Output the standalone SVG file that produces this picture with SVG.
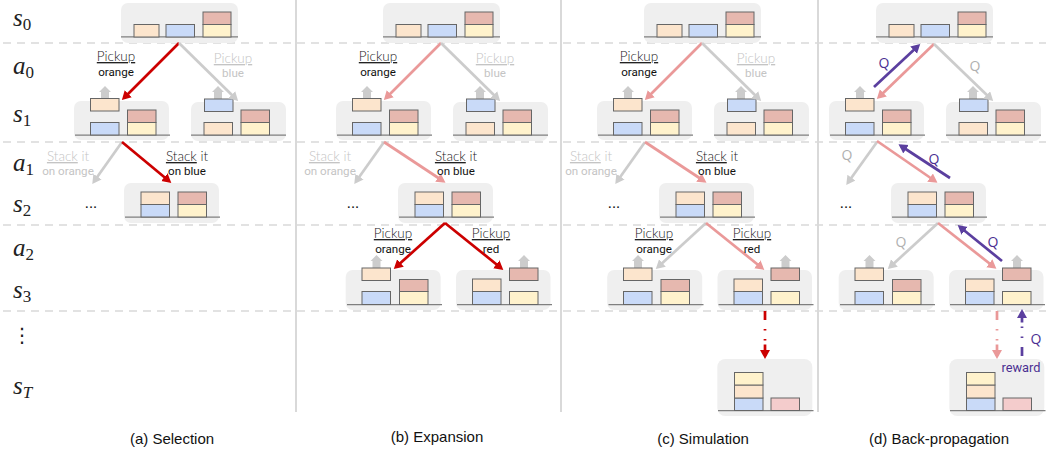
<svg xmlns="http://www.w3.org/2000/svg" width="1048" height="450" viewBox="0 0 1048 450">
<style>
.bg{fill:#efefef}
.fl{stroke:#7f7f7f;stroke-width:1.3;fill:none}
.o,.b,.y,.r,.p{stroke:#666;stroke-width:1}
.o{fill:#fce5cd}.b{fill:#c9daf8}.y{fill:#fff2cc}.r{fill:#e6b8af}.p{fill:#f4cccc}
.up{fill:#cccccc}
.sep{stroke:#d9d9d9;stroke-width:1.6;stroke-dasharray:8 6;fill:none}
.vl{stroke:#d9d9d9;stroke-width:2;fill:none}
.ar{fill:none;stroke-width:2.7}
.red{stroke:#cc0000}.pk{stroke:#ea9999}.gy{stroke:#cccccc}.pu{stroke:#5b3f9f}
.dd{stroke-dasharray:9 9 1.5 8.5 1.5 4 20 100}
.tt{font-family:"Roboto","Liberation Sans",sans-serif;font-size:11.6px;fill:#111;text-anchor:middle}
.ul{font-family:"Lato","Open Sans",sans-serif;font-size:13.5px;font-weight:300;fill:#222;text-anchor:middle}
.u{text-decoration:underline}
.g{fill:#c4c4c4}
.m{font-family:"Liberation Serif","DejaVu Serif",serif;font-size:25px;font-style:italic;fill:#222}
.sb{font-size:17px;font-style:normal}
.cap{font-family:"Liberation Sans",Arial,sans-serif;font-size:15px;fill:#111;text-anchor:middle}
.q{font-family:"Open Sans","Liberation Sans",sans-serif;font-size:14px;text-anchor:middle}
.qp{fill:#4b2f92}.qg{fill:#b0b0b0}
.dots{font-family:"Roboto","Liberation Sans",sans-serif;font-size:16px;fill:#111;text-anchor:middle}
.rw{font-family:"Roboto","Liberation Sans",sans-serif;font-size:12.8px;fill:#4b2f92;text-anchor:middle}
</style>
<defs>
<marker id="hr" markerUnits="userSpaceOnUse" markerWidth="11" markerHeight="11" refX="6" refY="5" orient="auto"><path d="M0 0L9 5L0 10Z" fill="#cc0000"/></marker>
<marker id="hp" markerUnits="userSpaceOnUse" markerWidth="11" markerHeight="11" refX="6" refY="5" orient="auto"><path d="M0 0L9 5L0 10Z" fill="#ea9999"/></marker>
<marker id="hg" markerUnits="userSpaceOnUse" markerWidth="11" markerHeight="11" refX="6" refY="5" orient="auto"><path d="M0 0L9 5L0 10Z" fill="#cccccc"/></marker>
<marker id="hu" markerUnits="userSpaceOnUse" markerWidth="11" markerHeight="11" refX="6" refY="5" orient="auto"><path d="M0 0L9 5L0 10Z" fill="#5b3f9f"/></marker>
<g id="t-s0">
<rect class="bg" x="121" y="3" width="117" height="40" rx="7"/>
<path class="fl" d="M121 36.8H238"/>
<rect class="o" x="134" y="24.5" width="25" height="12.5"/><rect class="b" x="166" y="24.5" width="28.5" height="12.5"/>
<rect class="y" x="203" y="24.5" width="28" height="12.5"/><rect class="r" x="203" y="12" width="28" height="12.5"/>
</g>
<g id="t-s1l">
<rect class="bg" x="74" y="101" width="95" height="39" rx="7"/>
<path class="fl" d="M75 135.2H170"/>
<path class="up" d="M105 86L111 92H109V98H101V92H99Z"/>
<rect class="o" x="90.5" y="98.5" width="28.5" height="12.5"/><rect class="b" x="90.5" y="122.5" width="28.5" height="12.5"/>
<rect class="y" x="127.5" y="122.5" width="28.5" height="12.5"/><rect class="r" x="127.5" y="110" width="28.5" height="12.5"/>
</g>
<g id="t-s1r">
<rect class="bg" x="191" y="102" width="95" height="39" rx="7"/>
<path class="fl" d="M191 135.2H286"/>
<path class="up" d="M218 86L224 92H222V99H214V92H212Z"/>
<rect class="b" x="204.5" y="99" width="28.5" height="12.5"/><rect class="o" x="204" y="122.5" width="28.5" height="12.5"/>
<rect class="y" x="241" y="122.5" width="28.5" height="12.5"/><rect class="r" x="241" y="110" width="28.5" height="12.5"/>
</g>
<g id="t-s2">
<rect class="bg" x="124" y="183" width="95" height="40" rx="7"/>
<path class="fl" d="M125 217.2H220"/>
<rect class="b" x="141" y="204.5" width="28.5" height="12.5"/><rect class="o" x="141" y="192" width="28.5" height="12.5"/>
<rect class="y" x="178" y="204.5" width="28.5" height="12.5"/><rect class="r" x="178" y="192" width="28.5" height="12.5"/>
</g>
<g id="t-s3l">
<rect class="bg" x="345.7" y="270" width="95" height="40" rx="7"/>
<path class="fl" d="M347 304.7H442"/>
<path class="up" d="M376.5 255L382.5 261H380.5V268H372.5V261H370.5Z"/>
<rect class="o" x="362" y="268" width="28.5" height="12.5"/><rect class="b" x="362" y="291.5" width="28.5" height="13"/>
<rect class="y" x="399.5" y="291.5" width="28.5" height="13"/><rect class="r" x="399.5" y="279.5" width="28.5" height="12"/>
</g>
<g id="t-s3r">
<rect class="bg" x="456" y="270" width="94.5" height="40" rx="7"/>
<path class="fl" d="M457 304.7H552"/>
<path class="up" d="M524 255L530 261H528V268H520V261H518Z"/>
<rect class="r" x="509.5" y="268" width="28.5" height="12.5"/><rect class="y" x="509.5" y="291.5" width="28.5" height="13"/>
<rect class="b" x="472.5" y="291.5" width="28.5" height="13"/><rect class="o" x="472.5" y="279" width="28.5" height="12.5"/>
</g>
<g id="t-st">
<rect class="bg" x="717.3" y="359" width="95" height="57" rx="8"/>
<path class="fl" d="M718 410.7H813.5"/>
<rect class="b" x="734.5" y="398" width="28.5" height="12.5"/><rect class="o" x="734.5" y="385" width="28.5" height="13"/><rect class="y" x="734.5" y="372.5" width="28.5" height="12.5"/>
<rect class="p" x="771" y="398" width="28.5" height="12.5"/>
</g>
</defs>
<rect width="1048" height="450" fill="#ffffff"/>
<g id="separators">
<path class="sep" d="M3 43H1046M3 142H1046M3 225H1046M3 311H1046"/>
<path class="vl" d="M296 0V412M561 0V412M818 0V412"/>
</g>
<g id="panel-a-s0"><use href="#t-s0"/></g>
<g id="panel-a-s1-left"><use href="#t-s1l"/></g>
<g id="panel-a-s1-right"><use href="#t-s1r"/></g>
<g id="panel-a-s2"><use href="#t-s2"/></g>
<g id="panel-b-s0"><use href="#t-s0" x="262"/></g>
<g id="panel-b-s1-left"><use href="#t-s1l" x="262"/></g>
<g id="panel-b-s1-right"><use href="#t-s1r" x="262"/></g>
<g id="panel-b-s2"><use href="#t-s2" x="274"/></g>
<g id="panel-b-s3-left"><use href="#t-s3l"/></g>
<g id="panel-b-s3-right"><use href="#t-s3r"/></g>
<g id="panel-c-s0"><use href="#t-s0" x="523"/></g>
<g id="panel-c-s1-left"><use href="#t-s1l" x="523"/></g>
<g id="panel-c-s1-right"><use href="#t-s1r" x="523"/></g>
<g id="panel-c-s2"><use href="#t-s2" x="535"/></g>
<g id="panel-c-s3-left"><use href="#t-s3l" x="261.5"/></g>
<g id="panel-c-s3-right"><use href="#t-s3r" x="261.5"/></g>
<g id="panel-c-st"><use href="#t-st"/></g>
<g id="panel-d-s0"><use href="#t-s0" x="755"/></g>
<g id="panel-d-s1-left"><use href="#t-s1l" x="755"/></g>
<g id="panel-d-s1-right"><use href="#t-s1r" x="755"/></g>
<g id="panel-d-s2"><use href="#t-s2" x="767"/></g>
<g id="panel-d-s3-left"><use href="#t-s3l" x="493"/></g>
<g id="panel-d-s3-right"><use href="#t-s3r" x="493"/></g>
<g id="panel-d-st"><use href="#t-st" x="232"/></g>
<g id="connectors">
<line class="ar red" x1="179" y1="43" x2="124" y2="98" marker-end="url(#hr)"/>
<line class="ar gy" x1="179" y1="43" x2="236" y2="99" marker-end="url(#hg)"/>
<line class="ar gy" x1="122" y1="142" x2="94" y2="181.5" marker-end="url(#hg)"/>
<line class="ar red" x1="122" y1="142" x2="169" y2="181" marker-end="url(#hr)"/>

<line class="ar pk" x1="441" y1="43" x2="386" y2="98" marker-end="url(#hp)"/>
<line class="ar gy" x1="441" y1="43" x2="498" y2="99" marker-end="url(#hg)"/>
<line class="ar gy" x1="384" y1="142" x2="356" y2="181.5" marker-end="url(#hg)"/>
<line class="ar pk" x1="384" y1="142" x2="443" y2="181" marker-end="url(#hp)"/>
<line class="ar red" x1="445" y1="223" x2="396" y2="267" marker-end="url(#hr)"/>
<line class="ar red" x1="445" y1="223" x2="501" y2="268" marker-end="url(#hr)"/>

<line class="ar pk" x1="702" y1="43" x2="647" y2="98" marker-end="url(#hp)"/>
<line class="ar gy" x1="702" y1="43" x2="759" y2="99" marker-end="url(#hg)"/>
<line class="ar gy" x1="645" y1="142" x2="617" y2="181.5" marker-end="url(#hg)"/>
<line class="ar pk" x1="645" y1="142" x2="704" y2="181" marker-end="url(#hp)"/>
<line class="ar gy" x1="706" y1="223" x2="658" y2="267" marker-end="url(#hg)"/>
<line class="ar pk" x1="706" y1="223" x2="762" y2="268" marker-end="url(#hp)"/>
<line class="ar red dd" x1="765" y1="311" x2="765" y2="356" marker-end="url(#hr)"/>

<line class="ar pu" x1="874" y1="87" x2="918" y2="46" marker-end="url(#hu)"/>
<line class="ar pk" x1="934" y1="44" x2="879" y2="97" marker-end="url(#hp)"/>
<line class="ar gy" x1="934" y1="44" x2="991" y2="99" marker-end="url(#hg)"/>
<line class="ar gy" x1="877" y1="142" x2="848" y2="182.5" marker-end="url(#hg)"/>
<line class="ar pk" x1="877" y1="141" x2="935" y2="181" marker-end="url(#hp)"/>
<line class="ar pu" x1="950" y1="178" x2="901" y2="146" marker-end="url(#hu)"/>
<line class="ar gy" x1="938" y1="223" x2="890" y2="267" marker-end="url(#hg)"/>
<line class="ar pk" x1="938" y1="223" x2="994" y2="267" marker-end="url(#hp)"/>
<line class="ar pu" x1="1002" y1="261" x2="960" y2="227" marker-end="url(#hu)"/>
<line class="ar pk dd" x1="997" y1="311" x2="997" y2="356" marker-end="url(#hp)"/>
<line class="ar pu dd" x1="1022" y1="356" x2="1022" y2="312" marker-end="url(#hu)"/>
</g>
<g id="labels">
<text class="ul u" x="116" y="61">Pickup</text><text class="tt" x="116" y="76">orange</text>
<text class="ul u g" x="233" y="63">Pickup</text><text class="tt g" x="233" y="77">blue</text>
<text class="ul g" x="68" y="161"><tspan class="u">Stack</tspan> it</text><text class="tt g" x="68" y="175">on orange</text>
<text class="ul" x="187" y="161"><tspan class="u">Stack</tspan> it</text><text class="tt" x="187" y="175">on blue</text>
<text class="dots" x="91" y="208">...</text>

<text class="ul u" x="378" y="61">Pickup</text><text class="tt" x="378" y="76">orange</text>
<text class="ul u g" x="495" y="63">Pickup</text><text class="tt g" x="495" y="77">blue</text>
<text class="ul g" x="330" y="161"><tspan class="u">Stack</tspan> it</text><text class="tt g" x="330" y="175">on orange</text>
<text class="ul" x="456" y="161"><tspan class="u">Stack</tspan> it</text><text class="tt" x="456" y="175">on blue</text>
<text class="dots" x="353" y="208">...</text>
<text class="ul u" x="393" y="238">Pickup</text><text class="tt" x="393" y="253">orange</text>
<text class="ul u" x="491" y="238">Pickup</text><text class="tt" x="491" y="253">red</text>

<text class="ul u" x="639" y="61">Pickup</text><text class="tt" x="639" y="76">orange</text>
<text class="ul u g" x="756" y="63">Pickup</text><text class="tt g" x="756" y="77">blue</text>
<text class="ul g" x="591" y="161"><tspan class="u">Stack</tspan> it</text><text class="tt g" x="591" y="175">on orange</text>
<text class="ul" x="717" y="161"><tspan class="u">Stack</tspan> it</text><text class="tt" x="717" y="175">on blue</text>
<text class="dots" x="614" y="208">...</text>
<text class="ul u" x="654" y="238">Pickup</text><text class="tt" x="654" y="253">orange</text>
<text class="ul u" x="752" y="238">Pickup</text><text class="tt" x="752" y="253">red</text>

<text class="q qp" x="884" y="68">Q</text><text class="q qg" x="975" y="71">Q</text>
<text class="q qg" x="847" y="160">Q</text><text class="q qp" x="934" y="164">Q</text>
<text class="dots" x="846" y="208">...</text>
<text class="q qg" x="901" y="247">Q</text><text class="q qp" x="993" y="247">Q</text>
<text class="q qp" x="1036" y="344">Q</text>
<text class="rw" x="1021" y="372">reward</text>
</g>
<g id="row-labels">
<text class="m" x="13" y="26">s<tspan class="sb" dy="4">0</tspan></text>
<text class="m" x="13" y="74">a<tspan class="sb" dy="4">0</tspan></text>
<text class="m" x="13" y="122">s<tspan class="sb" dy="4">1</tspan></text>
<text class="m" x="13" y="171">a<tspan class="sb" dy="4">1</tspan></text>
<text class="m" x="13" y="212">s<tspan class="sb" dy="4">2</tspan></text>
<text class="m" x="13" y="256">a<tspan class="sb" dy="4">2</tspan></text>
<text class="m" x="13" y="298">s<tspan class="sb" dy="4">3</tspan></text>
<text x="22" y="342" font-family="'DejaVu Sans',sans-serif" font-size="20" fill="#222" text-anchor="middle">⋮</text>
<text class="m" x="13" y="394">s<tspan font-size="17" dy="4">T</tspan></text>
</g>
<g id="captions">
<text class="cap" x="172" y="444">(a) Selection</text>
<text class="cap" x="437" y="442">(b) Expansion</text>
<text class="cap" x="703" y="444">(c) Simulation</text>
<text class="cap" x="939" y="444">(d) Back-propagation</text>
</g>
</svg>
